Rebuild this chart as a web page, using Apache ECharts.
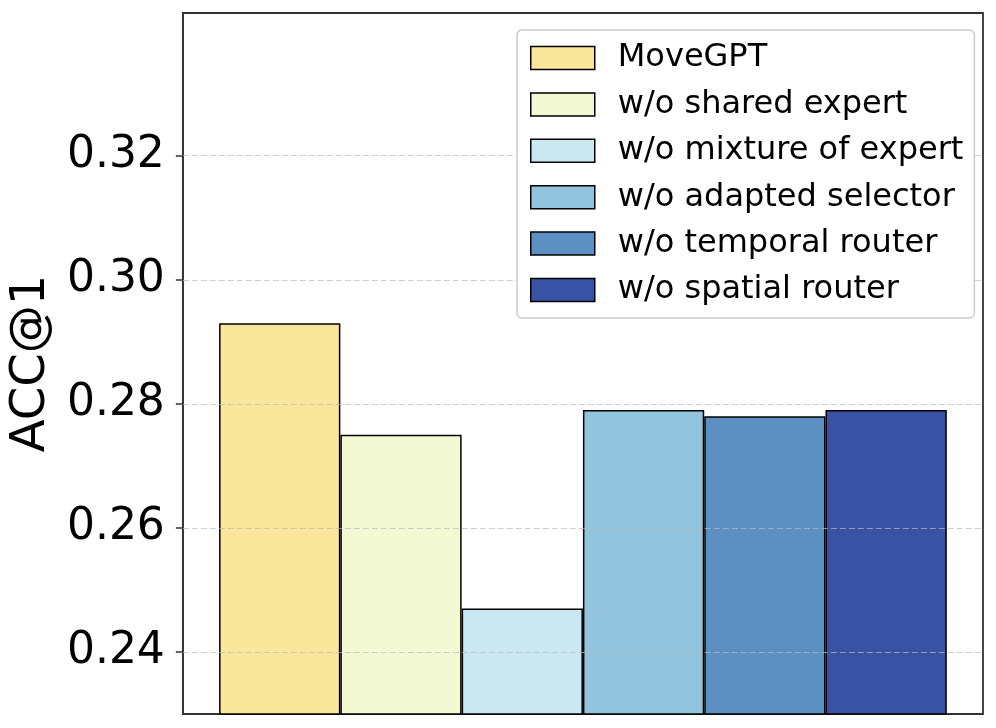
<!DOCTYPE html>
<html>
<head>
<meta charset="utf-8">
<script src="https://cdn.jsdelivr.net/npm/echarts@6/dist/echarts.min.js"></script>
<style>html,body{margin:0;padding:0;background:#fff}#c{width:996px;height:728px}</style>
</head>
<body>
<div id="c"></div>
<script>
const seriesNames = ['MoveGPT','w/o shared expert','w/o mixture of expert','w/o adapted selector','w/o temporal router','w/o spatial router'];
const accValues = [0.293, 0.275, 0.247, 0.279, 0.278, 0.279];
const barColors = ['#FBE79C','#F2F9D3','#CAE8F2','#92C4DE','#5C90C2','#3952A3'];
const yTicks = [0.24, 0.26, 0.28, 0.30, 0.32];
const yMin = 0.23, yMax = 0.343;
const font = 'DejaVu Sans';

const chart = echarts.init(document.getElementById('c'));
const series = seriesNames.map((name, i) => {
  const s = {
    name: name,
    type: 'bar',
    data: [accValues[i]],
    barGap: '0%',
    barCategoryGap: '9.05%',
    itemStyle: { color: barColors[i], borderColor: '#000', borderWidth: 1.5 },
    emphasis: { disabled: true }
  };
  if (i === seriesNames.length - 1) {
    s.markLine = {
      silent: true,
      symbol: 'none',
      z: 5,
      label: { show: false },
      lineStyle: { type: [6, 3], color: '#bbb', width: 1, opacity: 0.7 },
      data: yTicks.map(v => ({ yAxis: v }))
    };
  }
  return s;
});

chart.setOption({
  animation: false,
  textStyle: { fontFamily: font },
  grid: { left: 181, right: 13, top: 13, bottom: 14, show: true, borderColor: '#333', borderWidth: 1.8, backgroundColor: 'transparent', containLabel: false },
  legend: {
    orient: 'vertical',
    left: 517, top: 30,
    z: 10,
    itemWidth: 64, itemHeight: 23, itemGap: 14.4,
    padding: [12, 11, 12, 13],
    backgroundColor: '#fff',
    borderColor: '#ccc', borderWidth: 1.5, borderRadius: 5,
    icon: 'rect',
    itemStyle: { borderColor: '#000', borderWidth: 1.5 },
    textStyle: { fontFamily: font, fontSize: 32, color: '#000', lineHeight: 32, padding: [0, 0, 0, 18] },
    data: seriesNames
  },
  xAxis: {
    type: 'category',
    data: [''],
    axisLine: { show: false },
    axisTick: { show: false },
    axisLabel: { show: false },
    splitLine: { show: false }
  },
  yAxis: {
    type: 'value',
    min: yMin, max: yMax,
    name: 'ACC@1',
    nameLocation: 'middle',
    nameGap: 120,
    nameTextStyle: { fontFamily: font, fontSize: 48, color: '#000' },
    axisLine: { show: true, lineStyle: { color: '#333', width: 1.8 } },
    axisTick: { show: true, inside: false, length: 7, lineStyle: { color: '#333', width: 1.5 }, customValues: yTicks },
    axisLabel: { fontFamily: font, fontSize: 44, color: '#000', margin: 18, customValues: yTicks, formatter: v => v.toFixed(2) },
    splitLine: { show: false }
  },
  series: series
});
</script>
</body>
</html>
